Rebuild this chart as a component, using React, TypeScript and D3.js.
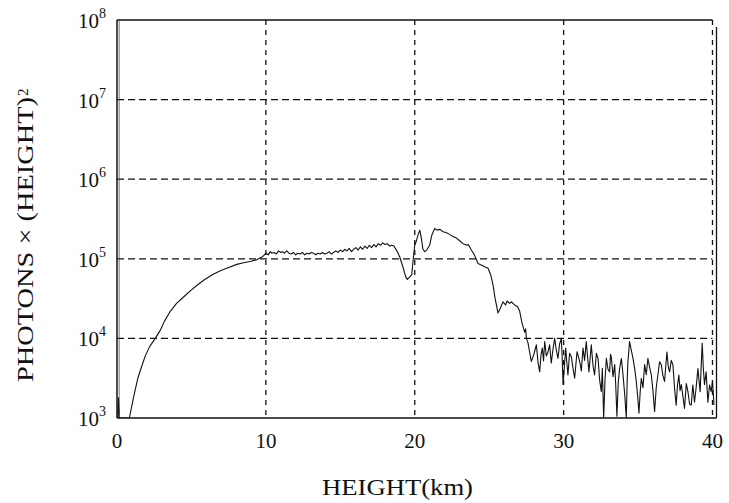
import React from 'react';
import * as d3 from 'd3';

// height (km) and photons x height^2
const heights = [
  // rise
  0.05, 0.1, 0.15, 0.83, 1.1, 1.4, 1.57, 1.9, 2.2, 2.57, 2.9, 3.2, 3.58, 4.0, 4.47, 5.0, 5.4, 5.82, 6.4, 6.94,
  7.5, 8.05, 8.5, 9.0, 9.4, 9.8,
  // plateau
  10.0, 10.15, 10.3, 10.4, 10.55, 10.7, 10.85, 11.0, 11.1, 11.25, 11.4, 11.55, 11.7, 11.85, 12.0, 12.15, 12.3,
  12.45, 12.6, 12.75, 12.9, 13.05, 13.2, 13.35, 13.5, 13.65, 13.8, 13.95, 14.1, 14.25, 14.4, 14.55, 14.7,
  14.85, 15.0, 15.15, 15.3, 15.45, 15.6, 15.75, 15.9, 16.05, 16.2, 16.35, 16.5, 16.65, 16.8, 16.95, 17.1,
  17.25, 17.4, 17.55, 17.7, 17.85, 18.0, 18.15, 18.3, 18.45, 18.6, 18.8,
  // dip and peak
  19.0, 19.2, 19.4, 19.5, 19.7, 19.8, 19.9,
  20.0, 20.1, 20.22, 20.34, 20.45, 20.55, 20.67, 20.8, 21.0, 21.15, 21.34, 21.5, 21.7, 21.9, 22.1, 22.3,
  22.57, 22.8, 23.0, 23.24, 23.5, 23.6, 23.8, 24.0, 24.25, 24.5, 24.7, 24.92, 25.1, 25.26, 25.4, 25.59,
  25.75, 25.93, 26.1, 26.2, 26.38, 26.5, 26.7, 26.9, 27.05, 27.2, 27.38, 27.45, 27.5, 27.6, 27.83, 28.0,
  // noisy tail
  28.17, 28.28, 28.39, 28.48, 28.57, 28.65, 28.73, 28.84, 28.95, 29.06, 29.17, 29.28, 29.4, 29.51, 29.62,
  29.73, 29.85, 29.9, 29.96, 30.05, 30.14, 30.21, 30.29, 30.4, 30.52, 30.63, 30.74, 30.9, 31.08, 31.19,
  31.3, 31.41, 31.52, 31.6, 31.7, 31.78, 31.86, 31.97, 32.08, 32.2, 32.31, 32.42, 32.53, 32.6, 32.69,
  32.78, 32.87, 32.98, 33.09, 33.15, 33.2, 33.32, 33.43, 33.5, 33.58, 33.67, 33.76, 33.88, 33.99, 34.1,
  34.21, 34.27, 34.32, 34.38, 34.43, 34.55, 34.66, 34.77, 34.88, 34.97, 35.06, 35.14, 35.22, 35.33, 35.44,
  35.55, 35.66, 35.78, 35.89, 36.0, 36.11, 36.22, 36.33, 36.45, 36.56, 36.67, 36.78, 36.86, 36.94, 37.03,
  37.12, 37.23, 37.34, 37.45, 37.56, 37.65, 37.74, 37.82, 37.9, 38.01, 38.12, 38.24, 38.35, 38.46, 38.57,
  38.68, 38.79, 38.9, 39.02, 39.1, 39.17, 39.24, 39.31, 39.38, 39.46, 39.57, 39.69, 39.8, 39.91, 40.0, 40.1,
];
const photons = [
  // rise
  1000, 1800, 1000, 1000, 1780, 3160, 3980, 6030, 7940, 10000, 12600, 16600, 21900, 27500, 33100, 40700, 46800,
  53700, 63100, 70800, 77600, 85100, 89100, 93300, 97700, 107000,
  // plateau
  117500, 112200, 123000, 117500, 120200, 114800, 125900, 120200, 123000, 117500, 125900, 117500, 114800,
  120200, 112200, 117500, 114800, 120200, 112200, 117500, 114800, 120200, 117500, 112200, 117500, 114800,
  120200, 114800, 117500, 123000, 114800, 120200, 125900, 120200, 128800, 123000, 131800, 125900, 134900,
  123000, 131800, 138000, 128800, 141300, 131800, 144500, 134900, 147900, 138000, 151400, 141300, 154900,
  147900, 158500, 151400, 154900, 144500, 147900, 144500, 125900,
  // dip and peak
  104700, 79400, 58900, 55000, 60300, 63100, 100000,
  147900, 166000, 199500, 229100, 177800, 131800, 123000, 128800, 147900, 199500, 239900, 229100, 234400,
  218800, 213800, 204200, 190500, 182000, 169800, 154900, 147900, 151400, 128800, 112200, 87100, 83200,
  79400, 75900, 63100, 46800, 31600, 20900, 24000, 28800, 26300, 29500, 27500, 28800, 26300, 25100, 21900,
  15800, 12000, 13200, 10000, 8910, 5130, 6310,
  // noisy tail
  8320, 5000, 3800, 6200, 7590, 5200, 9120, 6000, 6760, 8300, 4900, 7200, 10000, 7100, 5620,
  8500, 10000, 6000, 2630, 4500, 7590, 5100, 3470, 6500, 5890, 4200, 3160, 6800, 5130, 3900,
  7590, 5300, 9120, 6200, 3800, 5600, 8320, 4600, 3470, 6500, 5620, 3000, 2140, 4200, 1000,
  3000, 5620, 4100, 3800, 6300, 5890, 3300, 4680, 2600, 1050, 2800, 4170, 5600, 3470, 2000,
  1000, 3000, 5130, 7000, 9120, 7000, 5620, 4200, 2880, 1900, 1150, 2100, 3160, 2400, 4680,
  3500, 5620, 4300, 3470, 2200, 1200, 2400, 3470, 5100, 4680, 3400, 2880, 4500, 6760, 4400,
  3800, 5300, 4680, 2400, 1450, 2600, 3470, 2200, 2630, 1900, 1320, 2700, 2140, 1500, 1450,
  2600, 1580, 2400, 4170, 2900, 2140, 4500, 8710, 4300, 2630, 3800, 1580, 2600, 2140, 2900, 1450,
];

const xTicks = [0, 10, 20, 30, 40];
const yExponents = [3, 4, 5, 6, 7, 8];
const xGrid = [10, 20, 30, 40];
const yGrid = [1e4, 1e5, 1e6, 1e7];

const W = 729;
const H = 503;
const left = 117;
const right = 716.5;
const top = 20;
const bottom = 418;
const font = '"Liberation Serif", "Times New Roman", serif';

export default function App() {
  const x = d3.scaleLinear().domain([0, 40]).range([left, 712.5]);
  const y = d3.scaleLog().domain([1e3, 1e8]).range([bottom, top]);

  const pts: [number, number][] = heights.map((h, i) => [h, photons[i]]);
  const line = d3.line<[number, number]>()
    .x(d => x(d[0]))
    .y(d => y(d[1]));

  return (
    <svg width={W} height={H} style={{ position: 'absolute', left: 0, top: 0, background: '#fff' }}>
      <defs>
        <clipPath id="plot">
          <rect x={left} y={top} width={right - left} height={bottom - top} />
        </clipPath>
      </defs>

      {/* grid */}
      {yGrid.map(v => (
        <line key={'h' + v} x1={left} x2={x(40)} y1={y(v)} y2={y(v)}
          stroke="#111" strokeWidth={1.3} strokeDasharray="7,4" />
      ))}
      {xGrid.map(v => (
        <line key={'v' + v} x1={x(v)} x2={x(v)} y1={top} y2={bottom}
          stroke="#111" strokeWidth={1.3} strokeDasharray="5,5" />
      ))}

      {/* frame */}
      <line x1={left} x2={x(40)} y1={top} y2={top} stroke="#111" strokeWidth={1.3} />
      <line x1={left} x2={right} y1={bottom} y2={bottom} stroke="#111" strokeWidth={1.5} />
      <line x1={left} x2={left} y1={top} y2={bottom} stroke="#111" strokeWidth={1.5} />
      <line x1={left + 2.2} x2={left + 2.2} y1={top} y2={bottom} stroke="#555" strokeWidth={0.8} />
      <line x1={right} x2={right} y1={top + 7} y2={bottom} stroke="#111" strokeWidth={1.3} />

      {/* curve */}
      <path d={line(pts) ?? ''} fill="none" stroke="#111" strokeWidth={1.1}
        strokeLinejoin="round" clipPath="url(#plot)" />

      {/* x tick labels */}
      {xTicks.map(t => (
        <text key={'xt' + t} x={x(t)} y={448} textAnchor="middle" fontFamily={font}
          fontSize={21} fill="#111">{t}</text>
      ))}

      {/* y tick labels */}
      {yExponents.map(e => (
        <text key={'yt' + e} x={106} y={y(Math.pow(10, e)) + 8} textAnchor="end"
          fontFamily={font} fontSize={21} fill="#111">
          10<tspan fontSize={14} dy={-10}>{e}</tspan>
        </text>
      ))}

      {/* axis titles */}
      <text x={322} y={495} fontFamily={font} fontSize={23} fill="#111"
        textLength={151} lengthAdjust="spacingAndGlyphs">HEIGHT(km)</text>
      <text transform="translate(33,382) rotate(-90)" fontFamily={font} fontSize={24} fill="#111"
        textLength={285} lengthAdjust="spacingAndGlyphs">PHOTONS × (HEIGHT)</text>
      <text transform="translate(28,96) rotate(-90)" fontFamily={font} fontSize={15} fill="#111">2</text>
    </svg>
  );
}
